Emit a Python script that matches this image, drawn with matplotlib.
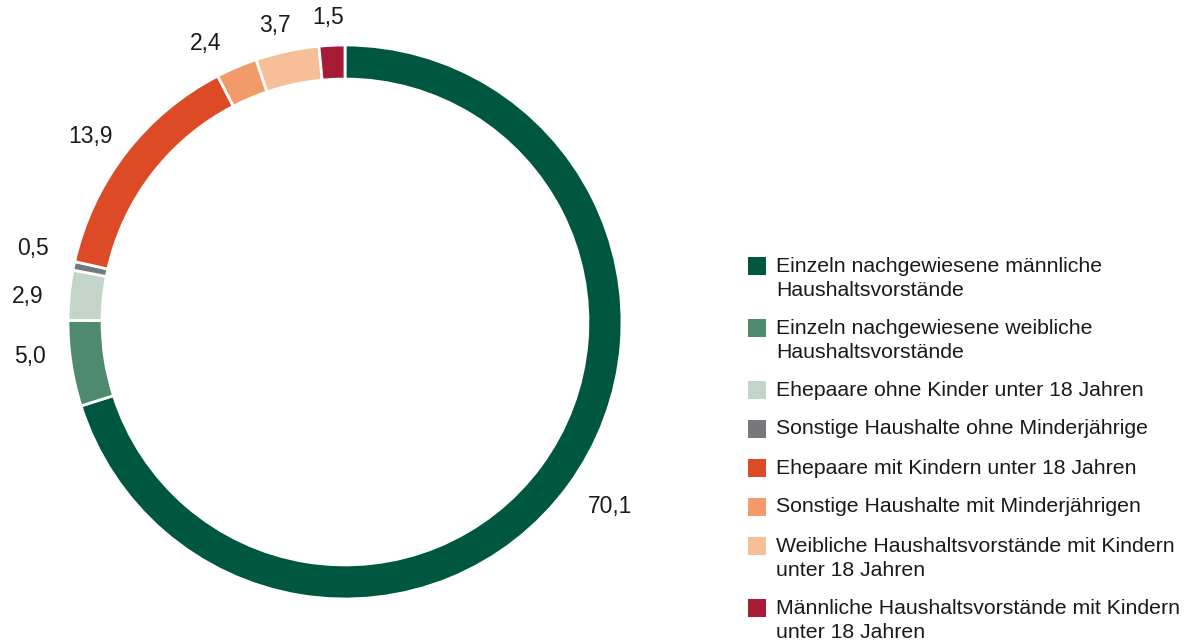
import numpy as np
import matplotlib.pyplot as plt
from matplotlib.patches import Rectangle

plt.rcParams['font.family'] = ['Liberation Sans', 'DejaVu Sans']

# Anteile in Prozent, im Uhrzeigersinn ab 12 Uhr
values = [70.1, 5.0, 2.9, 0.5, 13.9, 2.4, 3.7, 1.5]
value_labels = ["70,1", "5,0", "2,9", "0,5", "13,9", "2,4", "3,7", "1,5"]
categories = [
    "Einzeln nachgewiesene männliche\nHaushaltsvorstände",
    "Einzeln nachgewiesene weibliche\nHaushaltsvorstände",
    "Ehepaare ohne Kinder unter 18 Jahren",
    "Sonstige Haushalte ohne Minderjährige",
    "Ehepaare mit Kindern unter 18 Jahren",
    "Sonstige Haushalte mit Minderjährigen",
    "Weibliche Haushaltsvorstände mit Kindern\nunter 18 Jahren",
    "Männliche Haushaltsvorstände mit Kindern\nunter 18 Jahren",
]
colors = ["#00573F", "#4E8A6E", "#C2D5C8", "#77787B",
          "#DD4B26", "#F39A6B", "#F7BF98", "#A71C34"]

W, H = 1193, 642
fig = plt.figure(figsize=(W / 100, H / 100), dpi=100)

# pie axes: center at (345, 322) px, outer radius 277 px
R = 277
lim = 1.2
side = 2 * R * lim
cx, cy = 345, H - 322
ax = fig.add_axes([(cx - side / 2) / W, (cy - side / 2) / H, side / W, side / H])

wedges, _ = ax.pie(values, colors=colors, startangle=90, counterclock=False,
                   radius=1.0, wedgeprops=dict(width=0.123, edgecolor="white", linewidth=2))
ax.set_xlim(-lim, lim)
ax.set_ylim(-lim, lim)
ax.set_aspect("equal")
ax.axis("off")

# label placement: distance from centre and small angle nudge (deg)
label_r = [1.167, 1.144, 1.148, 1.157, 1.137, 1.124, 1.101, 1.10]
label_nudge = [1.3, -2.3, 0.9, -1.5, 1.6, 3.6, 1.3, 0.5]
for w, txt, r, d in zip(wedges, value_labels, label_r, label_nudge):
    a = np.deg2rad((w.theta1 + w.theta2) / 2 + d)
    ax.text(r * np.cos(a), r * np.sin(a), txt, ha="center", va="center",
            fontsize=16.5, color="#1a1a1a", clip_on=False)

# legend drawn by hand so the square sits on the first text line
lax = fig.add_axes([0, 0, 1, 1])
lax.set_xlim(0, W)
lax.set_ylim(H, 0)
lax.axis("off")
y = 266
for lab, c in zip(categories, colors):
    lax.add_patch(Rectangle((748, y - 9), 18, 18, facecolor=c, edgecolor="none"))
    lines = lab.split("\n")
    for i, line in enumerate(lines):
        lax.text(776, y + i * 24, line, ha="left", va="center",
                 fontsize=15.3, color="#1a1a1a")
    y += 39 + 23 * (len(lines) - 1)

fig.savefig("out.png", dpi=100)
